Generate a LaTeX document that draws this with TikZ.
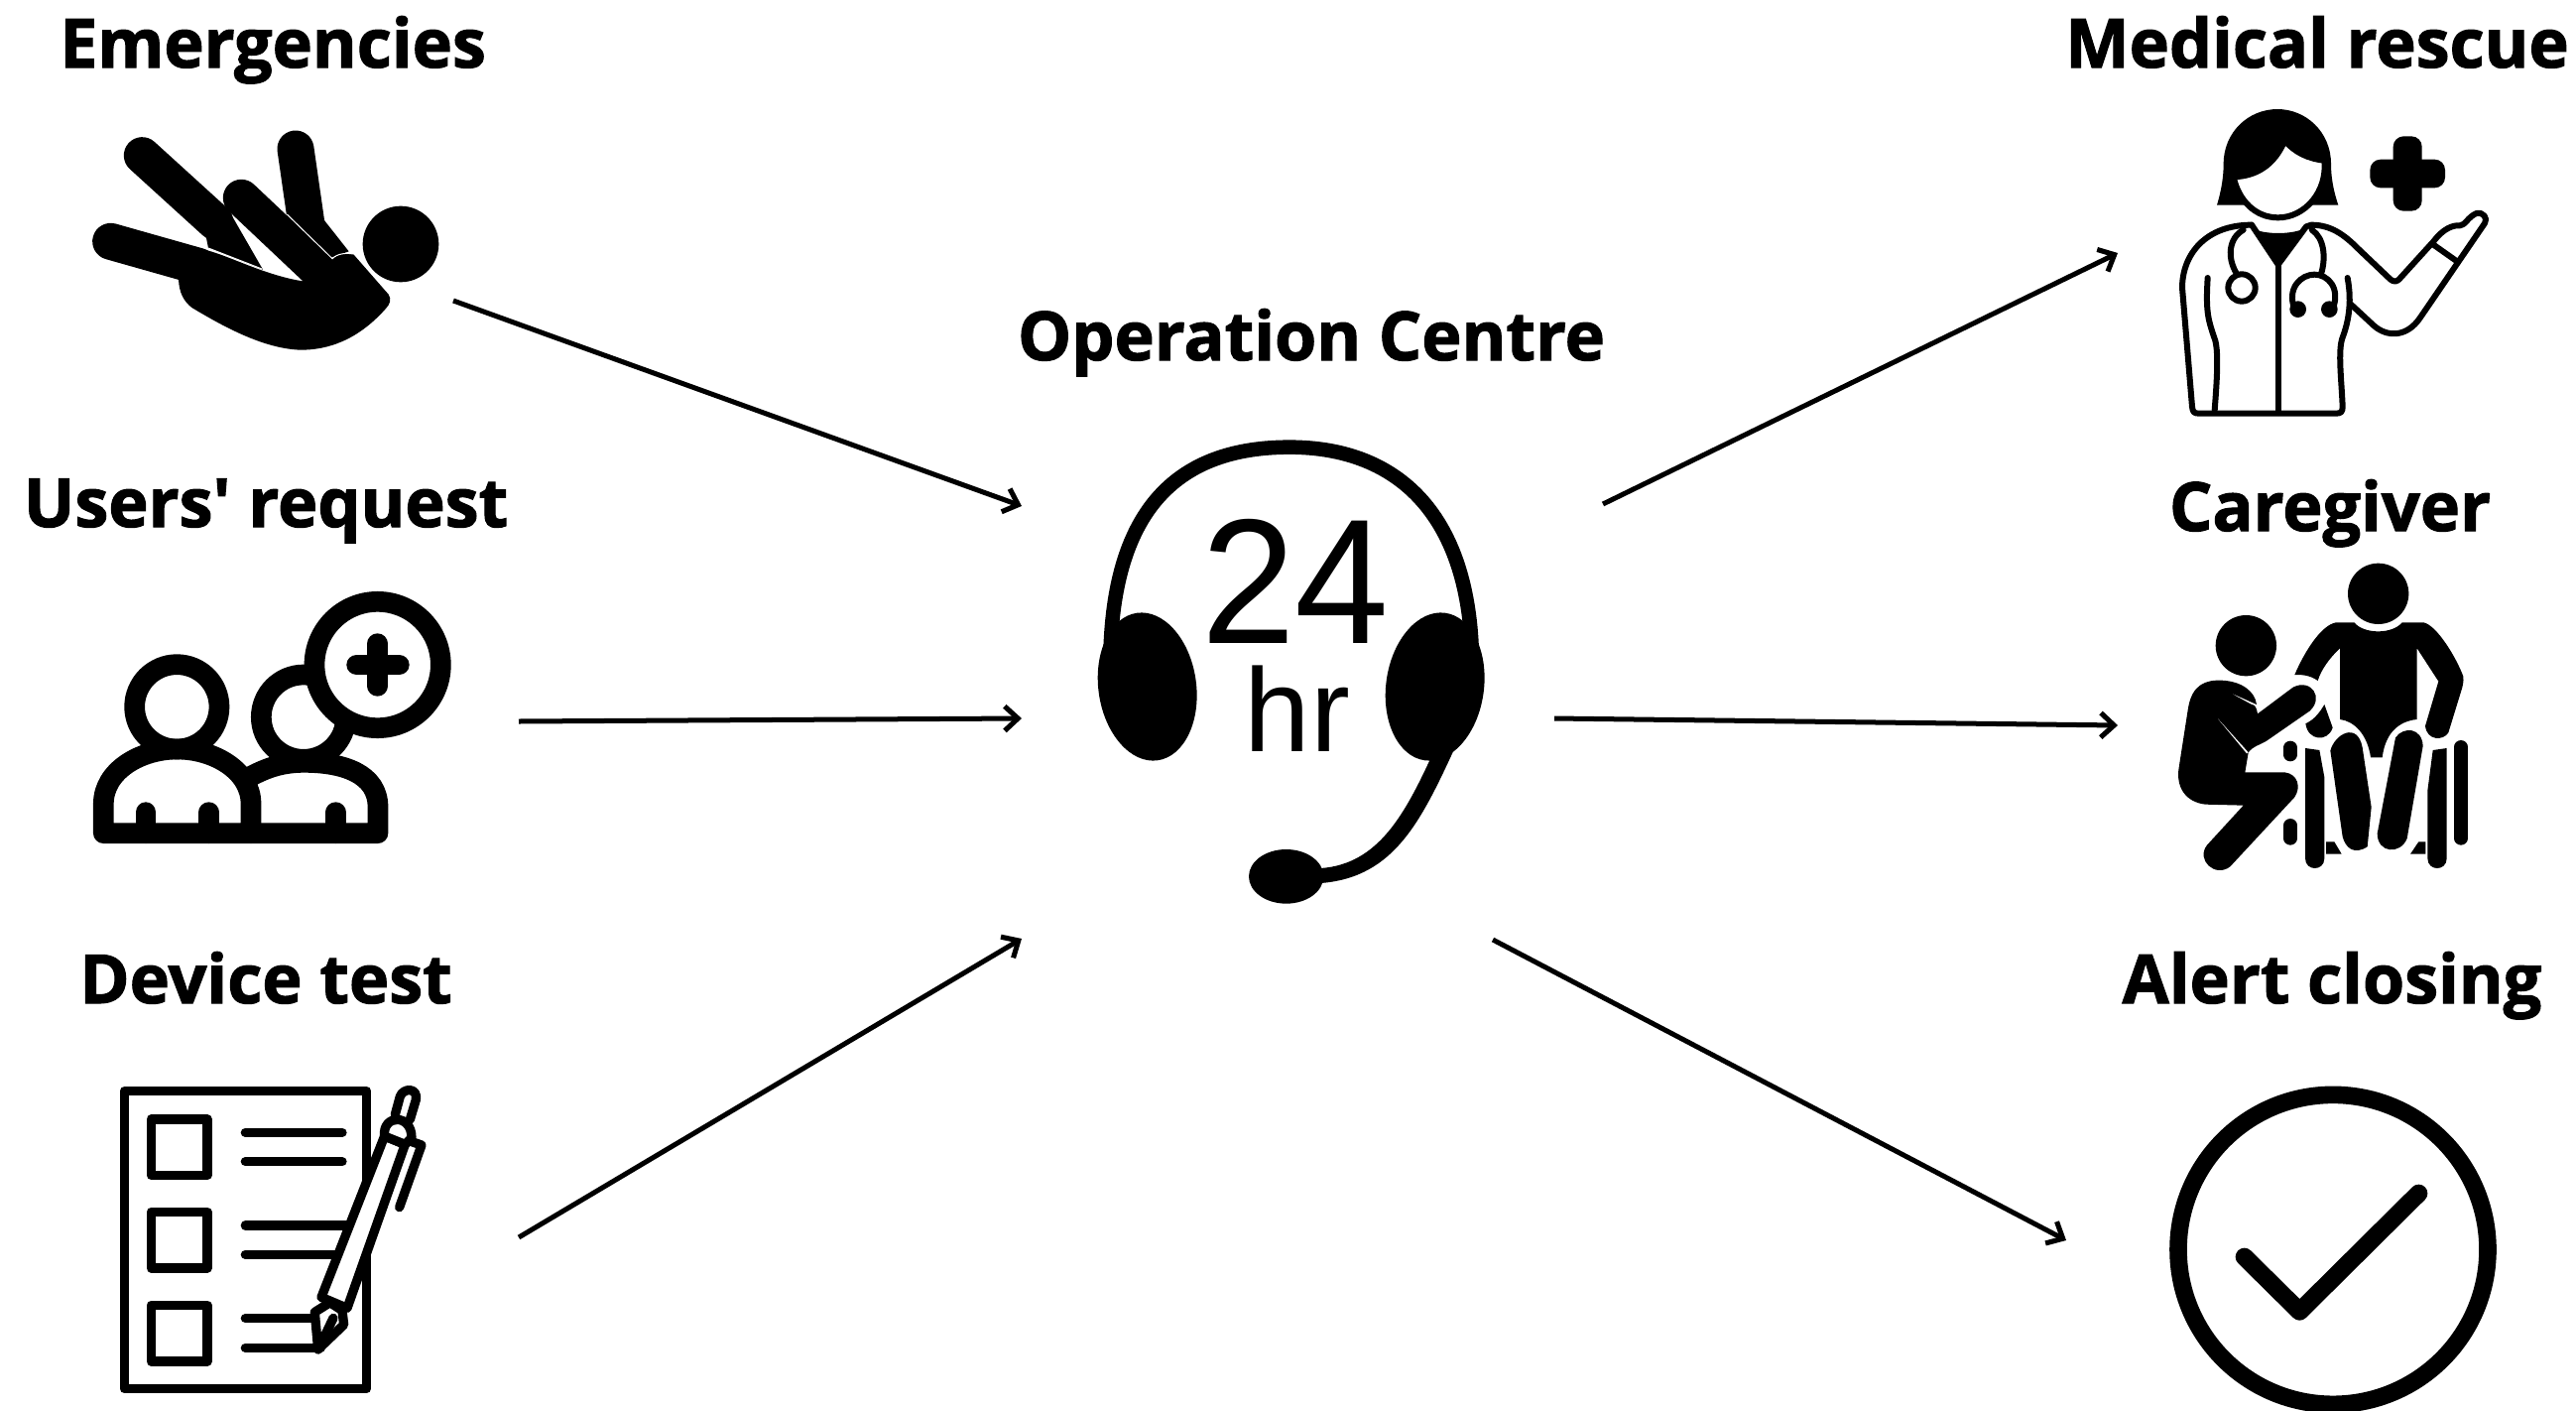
\documentclass[tikz,border=0pt]{standalone}
\usepackage{fontspec}
\setmainfont{Open Sans}
\newfontfamily\labfont{Open Sans}[BoldFeatures={FakeBold=1.6}]
\newfontfamily\helv{Liberation Sans}
\newfontfamily\helvn{Liberation Sans}[FakeStretch=0.95]
\usetikzlibrary{arrows.meta}
\tikzset{
  x=0.01cm,y=-0.01cm,
  px/.style={line width=#1*0.2845pt},
  lab/.style={font=\labfont\fontsize{19.4pt}{21pt}\selectfont\bfseries,anchor=base,inner sep=0pt,text=black},
  conn/.style={px=5,-{Straight Barb[length=3.8pt,width=7pt,line width=1.45pt]}},
  thick1/.style={px=20.7,line cap=round,line join=round},
  sheet/.style={px=9.3,line cap=round,line join=round},
  doc/.style={px=6,line cap=round,line join=round},
}
\begin{document}
\begin{tikzpicture}
\useasboundingbox (0,0) rectangle (2597,1421);
\fill[white] (0,0) rectangle (2597,1421);
% labels
\node[lab] (lE) at (275,68) {Emergencies};
\node[lab] (lU) at (268,531) {Users' request};
\node[lab] (lD) at (268,1011) {Device test};
\node[lab] (lO) at (1322,363) {Operation Centre};
\node[lab] (lM) at (2336,68) {Medical rescue};
\node[lab] (lC) at (2349,535) {Caregiver};
\node[lab] (lA) at (2351,1011) {Alert closing};
% Emergencies icon
\begin{scope}[shift={(60,100)},scale=1/3]
\fill (1032,438) circle (115);
\draw[px=37,line cap=round] (250,170) -- (470,370);
\fill (520,350) -- (615,515) -- (450,450) -- (440,400) -- cycle;
\draw[px=37,line cap=round] (155,430) -- (420,505);
\draw[px=37,line cap=round] (714,150) -- (750,400);
\fill (690,340) -- (800,365) -- (875,460) -- (820,480) -- cycle;
\draw[px=37,line cap=round] (550,298) -- (780,515);
\fill (360,545) .. controls (355,490) and (390,450) .. (425,452) .. controls (500,465) and (610,530) .. (735,550) -- (825,485) .. controls (840,465) and (880,462) .. (890,470) -- (995,590) .. controls (1005,605) and (1000,620) .. (985,635) .. controls (900,730) and (810,758) .. (730,758) .. controls (620,755) and (500,690) .. (400,630) .. controls (375,610) and (362,585) .. (360,545) -- cycle;
\draw[white,px=1] (688,348) -- (825,482) .. controls (840,466) and (870,464) .. (888,468);
\draw[white,px=1] (450,450) -- (612,513);
\end{scope}
% Users icon
\begin{scope}[shift={(70,580)},scale=1/3]
\draw[thick1] (325,397) circle (128);
\draw[thick1] (103,779) -- (103,690) .. controls (103,590) and (215,525) .. (326,525) .. controls (437,525) and (549,590) .. (549,690) -- (549,779) -- cycle;
\draw[thick1] (231,716) -- (231,779) (422,716) -- (422,779);
\draw[thick1] (708,428) circle (128);
\draw[thick1] (540,612) .. controls (600,578) and (650,565) .. (710,565) .. controls (830,565) and (933,600) .. (933,700) -- (933,779) -- (549,779);
\draw[thick1] (805,716) -- (805,779);
\draw[thick1,fill=white] (932,270) circle (191);
\draw[thick1] (932,206) -- (932,334) (869,270) -- (997,270);
\end{scope}
% Checklist icon
\begin{scope}[shift={(90,1070)},scale=1/3]
\draw[sheet] (106,89) rectangle (839,989);
\draw[sheet] (187,174) rectangle (357,343);
\draw[sheet] (187,454) rectangle (357,624);
\draw[sheet] (187,736) rectangle (357,906);
\draw[sheet] (472,214) -- (765,214) (472,302) -- (765,302) (472,495) -- (790,495) (472,583) -- (760,583) (472,776) -- (690,776) (472,865) -- (700,865);
\draw[sheet,fill=white] (893,225) -- (955,250) -- (780,745) -- (702,712) -- cycle;
\draw[sheet,fill=white] (728,728) -- (682,757) -- (692,870) -- (770,795) -- (765,752) -- cycle;
\draw[sheet] (738,775) -- (695,865);
\draw[sheet,fill=white] (925,160) -- (940,105) .. controls (950,78) and (995,78) .. (988,115) -- (970,175);
\draw[sheet,fill=white] (893,225) .. controls (885,160) and (975,155) .. (975,230) -- (955,250) -- cycle;
\draw[sheet] (970,240) -- (1005,252) -- (938,440);
\end{scope}
% Headset icon
\begin{scope}[shift={(1080,430)},scale=1/3]
\draw[px=14.5] (118,700) .. controls (125,240) and (330,62) .. (660,62) .. controls (1000,62) and (1205,280) .. (1212,700);
\fill[shift={(230,786)},rotate=8] (0,0) ellipse [x radius=148,y radius=225];
\fill[shift={(1100,786)},rotate=-8] (0,0) ellipse [x radius=148,y radius=225];
\fill (1095,985) .. controls (1010,1170) and (930,1322) .. (755,1335) -- (755,1380) .. controls (980,1362) and (1060,1190) .. (1172,945) -- cycle;
\fill (650,1360) ellipse [x radius=113,y radius=82];
\end{scope}
\node[font=\helvn\fontsize{51pt}{51pt}\selectfont,anchor=base,inner sep=0pt] (tf) at (1306,648) {24};
\node[font=\helv\fontsize{34pt}{34pt}\selectfont,anchor=base,inner sep=0pt] (hr) at (1308,757) {hr};
% Doctor icon
\begin{scope}[shift={(2170,90)},scale=1/3]
\fill (195,350) .. controls (210,300) and (215,260) .. (215,225) .. controls (215,130) and (290,60) .. (378,60) .. controls (465,60) and (540,130) .. (540,225) .. controls (540,260) and (545,300) .. (562,350) -- cycle;
\draw[doc,fill=white] (245,265) .. controls (320,262) and (370,225) .. (400,155) .. controls (430,190) and (470,210) .. (520,215) .. controls (530,310) and (460,388) .. (380,388) .. controls (310,388) and (260,335) .. (245,265) -- cycle;
\fill[rounded corners=3pt] (658,212) rectangle (885,298);
\fill[rounded corners=3pt] (728,142) rectangle (815,368);
\fill (300,420) .. controls (340,440) and (420,440) .. (462,420) -- (380,535) -- cycle;
\draw[doc] (300,410) .. controls (160,410) and (90,500) .. (90,600) -- (120,960) .. controls (122,975) and (125,980) .. (140,980) -- (555,980) .. controls (570,980) and (575,975) .. (575,960) .. controls (572,880) and (560,790) .. (575,750) .. controls (590,710) and (605,650) .. (590,570);
\draw[doc] (300,410) -- (380,530) -- (465,415) -- (480,410) .. controls (540,410) and (580,440) .. (620,480) -- (720,575) .. controls (730,583) and (740,583) .. (750,570) -- (850,460) .. controls (880,420) and (910,410) .. (930,412) .. controls (945,412) and (955,385) .. (980,375) .. controls (1000,370) and (1015,390) .. (1005,405) -- (810,690) .. controls (770,750) and (710,750) .. (670,715) -- (600,650);
\draw[doc] (850,470) -- (918,518);
\draw[doc] (380,530) -- (380,978);
\draw[doc] (167,570) .. controls (160,680) and (170,700) .. (190,760) .. controls (200,800) and (195,880) .. (188,970);
\draw[doc] (275,425) .. controls (230,450) and (225,510) .. (255,558);
\draw[doc] (270,600) circle (41);
\draw[doc] (482,425) .. controls (520,450) and (525,510) .. (510,558);
\draw[doc] (430,665) .. controls (405,600) and (450,560) .. (490,560) .. controls (530,560) and (570,600) .. (545,665);
\fill (440,665) circle (25);
\fill (535,665) circle (25);
\end{scope}
% Caregiver icon
\begin{scope}[shift={(2170,550)},scale=1/3]
\fill (683,145) circle (92);
\fill (283,302) circle (92);
\fill (610,232) .. controls (640,268) and (725,268) .. (755,232) -- (820,232) .. controls (860,240) and (920,340) .. (940,395) .. controls (942,410) and (938,425) .. (935,435) -- (895,565) .. controls (880,590) and (830,590) .. (825,545) -- (865,410) -- (800,310) -- (800,525) .. controls (750,530) and (705,560) .. (695,640) -- (660,640) .. controls (650,570) and (610,530) .. (567,525) -- (567,310) .. controls (535,340) and (510,375) .. (500,408) .. controls (475,390) and (450,390) .. (430,390) .. controls (460,320) and (510,240) .. (555,232) -- cycle;
\fill (230,442) -- (300,480) .. controls (310,480) and (315,490) .. (318,508) -- (425,428) .. controls (480,400) and (520,460) .. (475,500) -- (345,590) .. controls (320,605) and (305,605) .. (290,625) -- (280,685) -- (400,685) .. controls (440,690) and (450,730) .. (430,760) -- (235,970) .. controls (190,1005) and (130,950) .. (165,905) -- (275,785) -- (160,782) .. controls (100,775) and (70,730) .. (80,670) -- (108,490) .. controls (120,420) and (160,405) .. (210,407) .. controls (270,410) and (310,440) .. (315,480) -- (230,442) -- cycle;
\fill[white] (198,523) -- (290,625) -- (285,628) -- cycle;
\fill (520,480) .. controls (500,515) and (480,530) .. (463,538) .. controls (470,590) and (530,595) .. (545,550) -- cycle;
\fill (538,620) .. controls (550,570) and (620,530) .. (635,610) -- (662,790) -- (650,910) .. controls (610,935) and (585,915) .. (575,880) -- cycle;
\fill (735,580) .. controls (760,545) and (815,550) .. (818,605) -- (770,885) .. controls (750,935) and (680,930) .. (680,870) -- cycle;
\fill (462,612) -- (505,618) -- (520,700) -- (520,945) .. controls (520,985) and (462,985) .. (462,945) -- cycle;
\fill (848,618) -- (890,612) -- (890,945) .. controls (890,985) and (832,985) .. (832,945) -- (832,740) -- cycle;
\draw[px=13.3,line cap=round] (417,610) -- (417,632);
\draw[px=13.3,line cap=round] (417,845) -- (417,885);
\draw[px=13.3,line cap=round] (933,608) -- (933,885);
\fill (525,895) -- (550,895) -- (572,932) -- (525,932) -- cycle;
\fill (826,895) -- (805,895) -- (780,932) -- (826,932) -- cycle;
\end{scope}
% Check icon
\begin{scope}[shift={(2170,1080)},scale=1/3]
\draw[px=17.6] (546,538) circle (468);
\draw[px=18,line cap=round,line join=round] (278,560) -- (445,725) -- (805,368);
\end{scope}
% connector ends
\coordinate (s1) at (457,303); \coordinate (hA) at (1030,510);
\coordinate (s2) at (523,727); \coordinate (hB) at (1030,724);
\coordinate (s3) at (523,1247); \coordinate (hC) at (1030,946);
\coordinate (oA) at (1616,508); \coordinate (e1) at (2135,255);
\coordinate (oB) at (1567,724); \coordinate (e2) at (2135,731);
\coordinate (oC) at (1505,947); \coordinate (e3) at (2083,1250);
\draw[conn] (s1) -- (hA);
\draw[conn] (s2) -- (hB);
\draw[conn] (s3) -- (hC);
\draw[conn] (oA) -- (e1);
\draw[conn] (oB) -- (e2);
\draw[conn] (oC) -- (e3);
\end{tikzpicture}
\end{document}
